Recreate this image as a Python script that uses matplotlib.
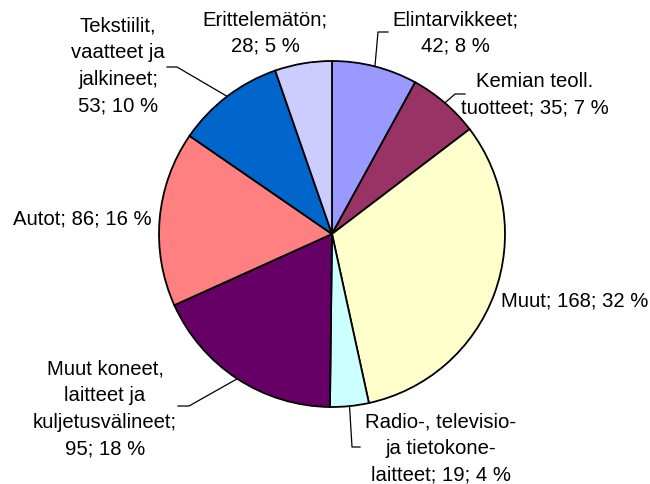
import numpy as np
import matplotlib
matplotlib.use("Agg")
import matplotlib.pyplot as plt

plt.rcParams['font.family'] = ['Liberation Sans', 'DejaVu Sans']

# Data (clockwise from 12 o'clock)
categories = ["Elintarvikkeet", "Kemian teoll. tuotteet", "Muut",
              "Radio-, televisio- ja tietokonelaitteet",
              "Muut koneet, laitteet ja kuljetusvälineet",
              "Autot", "Tekstiilit, vaatteet ja jalkineet", "Erittelemätön"]
values = [42, 35, 168, 19, 95, 86, 53, 28]
percents = [8, 7, 32, 4, 18, 16, 10, 5]
colors = ["#9999FF", "#993366", "#FFFFCC", "#CCFFFF", "#660066", "#FF8080", "#0066CC", "#CCCCFF"]

# label texts, as they wrap in the original
label_texts = [
    "Elintarvikkeet;\n42; 8 %",
    "Kemian teoll.\ntuotteet; 35; 7 %",
    "Muut; 168; 32 %",
    "Radio-, televisio-\nja tietokone-\nlaitteet; 19; 4 %",
    "Muut koneet,\nlaitteet ja\nkuljetusvälineet;\n95; 18 %",
    "Autot; 86; 16 %",
    "Tekstiilit,\nvaatteet ja\njalkineet;\n53; 10 %",
    "Erittelemätön;\n28; 5 %",
]

W, H = 650, 485
cx, cy, r = 332, H - 235, 173

fig = plt.figure(figsize=(6.5, 4.85), dpi=100)
ax = fig.add_axes([0, 0, 1, 1])

wedges, _ = ax.pie(values, colors=colors, startangle=90, counterclock=False,
                   center=(cx, cy), radius=r,
                   wedgeprops=dict(edgecolor="black", linewidth=1.3))
ax.set_xlim(0, W)
ax.set_ylim(0, H)
ax.set_aspect("equal")
ax.axis("off")

# label centers (pixel coords from top) and leader elbows
label_pos = [(455, 33), (535, 95), (575, 301), (441, 449),
             (105, 409), (82, 219), (118, 66), (265, 33)]
elbows = [[(388, 33), (378, 33)],
          [(465, 95), (455, 95)],
          None,
          [(360, 448), (352, 448)],
          [(178, 407), (189, 407)],
          None,
          [(167, 68), (177, 68)],
          None]

for w, txt, (lx, ly), elb in zip(wedges, label_texts, label_pos, elbows):
    ax.text(lx, H - ly, txt, ha="center", va="center", fontsize=14.6,
            linespacing=1.5, color="black")
    if elb is not None:
        mid = np.deg2rad((w.theta1 + w.theta2) / 2)
        ex, ey = cx + r * np.cos(mid), cy + r * np.sin(mid)
        xs = [p[0] for p in elb] + [ex]
        ys = [H - p[1] for p in elb] + [ey]
        ax.plot(xs, ys, color="black", linewidth=0.9)

fig.savefig("out.png", dpi=100)
